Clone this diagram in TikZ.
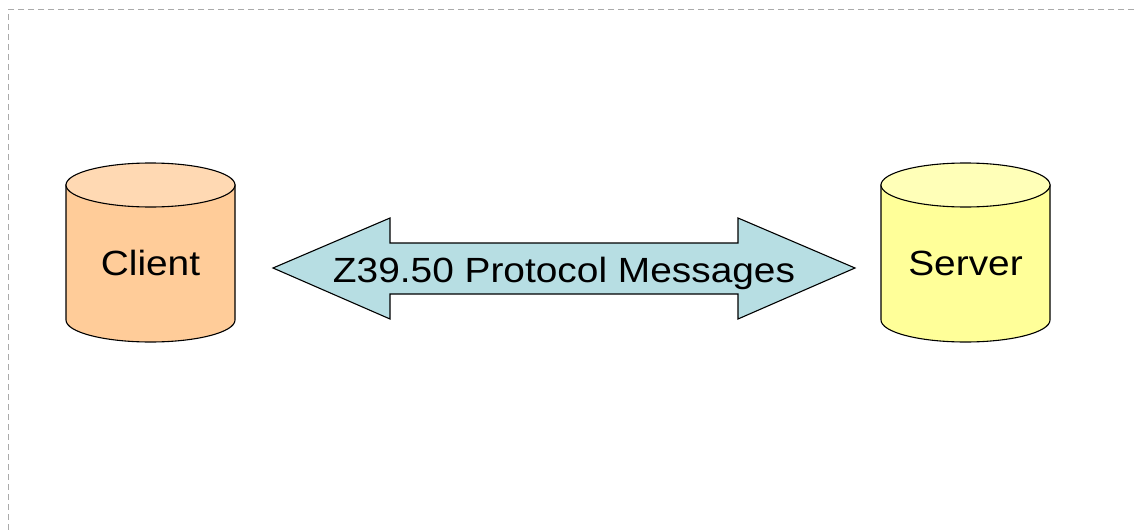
\documentclass[tikz,border=0pt]{standalone}
\usepackage{fontspec}
\setmainfont{Liberation Sans}
\definecolor{clientbody}{HTML}{FFCC99}
\definecolor{clienttop}{HTML}{FFD9B3}
\definecolor{serverbody}{HTML}{FFFF99}
\definecolor{servertop}{HTML}{FFFFB8}
\definecolor{arrowfill}{HTML}{B7DEE3}
\definecolor{framegray}{HTML}{AAAAAA}
\newcommand{\wide}[1]{\scalebox{1.11}[1]{#1}}
\tikzset{
  outline/.style={draw=black, line width=1.1pt},
  lbl/.style={font=\fontsize{35}{40}\selectfont, inner sep=0pt, anchor=base},
  frameline/.style={draw=framegray, line width=1pt, dash pattern=on 6pt off 4pt}
}
\newcommand{\cyl}[5]{% name, cx, body colour, top colour, label
  \coordinate (#1) at (#2,252);
  \path[outline, fill=#3] (#2-84.5,185) -- (#2-84.5,320)
     arc[start angle=180, end angle=360, x radius=84.5, y radius=-22]
     -- (#2+84.5,185) -- cycle;
  \path[outline, fill=#4] (#2,185) ellipse[x radius=84.5, y radius=22];
  \node[lbl] (#1-label) at (#2,275) {\wide{#5}};
}
\begin{document}
\begin{tikzpicture}[x=1pt,y=-1pt]
\useasboundingbox (0,0) rectangle (1134,532);
\coordinate (frameTL) at (8,10);
\coordinate (frameTR) at (1134,10);
\coordinate (frameBL) at (8,532);
\draw[frameline] (frameTR) -- (frameTL) -- (frameBL);
\cyl{client}{150.5}{clientbody}{clienttop}{Client}
\cyl{server}{965.5}{serverbody}{servertop}{Server}
\path[outline, fill=arrowfill]
  (273,268) -- (390,218) -- (390,243) -- (738,243) -- (738,218) -- (855,268)
  -- (738,319) -- (738,294) -- (390,294) -- (390,319) -- cycle;
\node[lbl] (msg) at (564,282) {\wide{Z39.50 Protocol Messages}};
\end{tikzpicture}
\end{document}
